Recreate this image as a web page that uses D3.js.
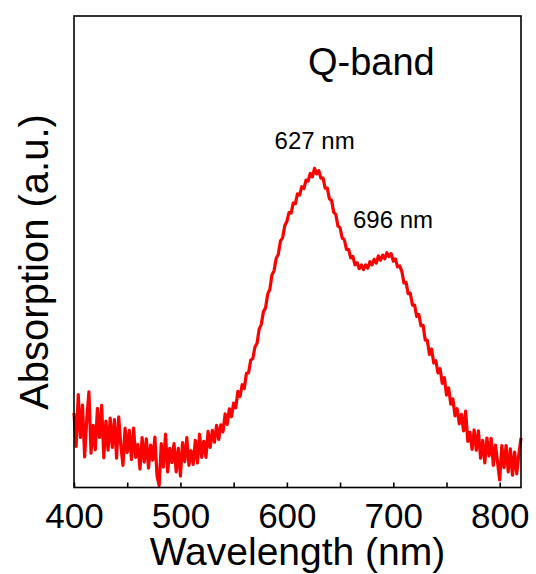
<!DOCTYPE html>
<html>
<head>
<meta charset="utf-8">
<script src="https://cdn.jsdelivr.net/npm/d3@7"></script>
<style>
  body { margin: 0; background: #fff; }
  text { font-family: 'Liberation Sans', Arial, sans-serif; fill: #000; }
</style>
</head>
<body>
<div id="chart"></div>
<script>
// sampling grid of the spectrum (nm)
const wavelengths = d3.range(400, 821, 2);

// absorption (a.u., 0-100 scale)
const absorption = [
  15.8, 8.7, 19.7, 10.6, 17.5, 6.5, 14.4, 20.3, 7.3, 13.2,
  8.0, 16.8, 10.6, 17.4, 6.3, 14.1, 7.9, 14.7,
  8.5, 14.4, 6.2, 15.0, 8.9, 4.7, 12.6, 7.4,
  12.1, 5.9, 12.6, 6.4, 9.1, 3.9, 10.6,
  5.4, 10.3, 4.1, 9.0, 5.8, 10.7, 2.5, 0.4,
  9.3, 4.3, 11.3, 3.3, 8.3, 5.3, 9.3, 3.3,
  8.3, 2.4, 9.5, 5.5, 10.6, 4.7, 7.8, 4.9,
  10.0, 5.2, 11.3, 6.4, 9.8, 6.4, 11.9, 8.5, 12.1,
  9.6, 13.2, 10.2, 13.3, 11.8, 15.6, 13.4, 16.7, 15.0,
  17.9, 16.9, 20.4, 19.3, 21.8, 21.0, 24.2, 24.3, 27.0, 27.3, 29.8,
  30.6, 33.6, 34.6, 37.3, 38.1, 41.0, 42.0, 45.1, 46.0, 48.6,
  49.5, 52.3, 52.9, 55.5, 56.4,
  58.3, 58.2, 60.3, 60.2, 62.3, 62.0, 63.8, 63.4, 65.2, 65.0, 66.6, 65.9, 67.7,
  66.5, 67.2, 65.6, 65.6, 63.5, 63.5, 61.2, 60.9, 58.4, 57.9, 55.4, 55.1, 52.9, 52.6,
  50.5, 50.5, 48.7, 49.0, 47.2, 47.7, 46.4, 47.2, 46.2, 47.2,
  46.5, 47.9, 47.2, 48.4, 47.6, 49.1, 48.2, 49.3, 48.5, 49.8, 49.0, 49.6, 48.0, 48.5, 46.8, 47.0,
  45.9, 43.4, 43.5, 41.1, 41.2, 38.7, 38.7, 36.3, 36.7, 34.3, 34.4, 31.3, 31.2, 28.2, 29.4, 26.4, 26.9, 24.3, 25.2,
  22.1, 23.3, 19.6, 21.1, 17.7, 18.8, 15.2, 16.7, 13.5, 15.5, 12.0, 16.2, 9.8, 11.7,
  8.1, 12.2, 7.9, 12.0, 6.2, 10.0, 5.2, 10.5, 6.7, 10.4, 4.7, 9.0, 5.3, 1.6, 8.9, 4.2, 8.9, 3.3, 8.2, 2.6, 7.5, 2.9, 7.1, 10.5
];

const xTicks = [400, 450, 500, 550, 600, 650, 700, 750, 800];
const peakLabels = ['627 nm', '696 nm'];

const svgWidth = 536;
const svgHeight = 574;
const margin = { top: 16, right: 15, bottom: 86.5, left: 74 };
const width = svgWidth - margin.left - margin.right;
const height = svgHeight - margin.top - margin.bottom;

const svg = d3.select('#chart')
    .append('svg')
    .attr('width', svgWidth)
    .attr('height', svgHeight)
    .append('g')
    .attr('transform', 'translate(' + margin.left + ',' + margin.top + ')');

const xScale = d3.scaleLinear()
    .domain([400, 820])
    .range([0, width]);

const yScale = d3.scaleLinear()
    .domain([0, 100])
    .range([height, 0]);

const line = d3.line()
    .x((d, i) => xScale(wavelengths[i]))
    .y(d => yScale(d));

svg.append('path')
    .datum(absorption)
    .attr('d', line)
    .attr('fill', 'none')
    .attr('stroke', '#ff0000')
    .attr('stroke-width', 3.2)
    .attr('stroke-linejoin', 'round');

// frame
svg.append('rect')
    .attr('x', 0)
    .attr('y', 0)
    .attr('width', width)
    .attr('height', height)
    .attr('fill', 'none')
    .attr('stroke', '#000')
    .attr('stroke-width', 1.6);

const xAxis = svg.append('g')
    .attr('transform', 'translate(0,' + height + ')')
    .call(d3.axisBottom(xScale)
        .tickValues(xTicks)
        .tickSize(-5)
        .tickPadding(16)
        .tickFormat(d => d % 100 === 0 ? d : ''));

xAxis.select('.domain').remove();
xAxis.selectAll('.tick line').attr('stroke', '#000').attr('stroke-width', 1.6);
xAxis.selectAll('.tick text')
    .style('font-family', "'Liberation Sans', Arial, sans-serif")
    .style('font-size', '35px');

svg.append('text')
    .attr('x', width / 2)
    .attr('y', height + 77)
    .attr('text-anchor', 'middle')
    .style('font-size', '39px')
    .text('Wavelength (nm)');

svg.append('text')
    .attr('transform', 'rotate(-90)')
    .attr('x', -(262 - margin.top))
    .attr('y', -26)
    .attr('text-anchor', 'middle')
    .style('font-size', '40px')
    .text('Absorption (a.u.)');

svg.append('text')
    .attr('x', 308 - margin.left)
    .attr('y', 75 - margin.top)
    .style('font-size', '38px')
    .text('Q-band');

svg.append('text')
    .attr('x', xScale(627) - 41)
    .attr('y', 149 - margin.top)
    .style('font-size', '24px')
    .text(peakLabels[0]);

svg.append('text')
    .attr('x', xScale(696) - 36)
    .attr('y', 228 - margin.top)
    .style('font-size', '24px')
    .text(peakLabels[1]);
</script>
</body>
</html>
